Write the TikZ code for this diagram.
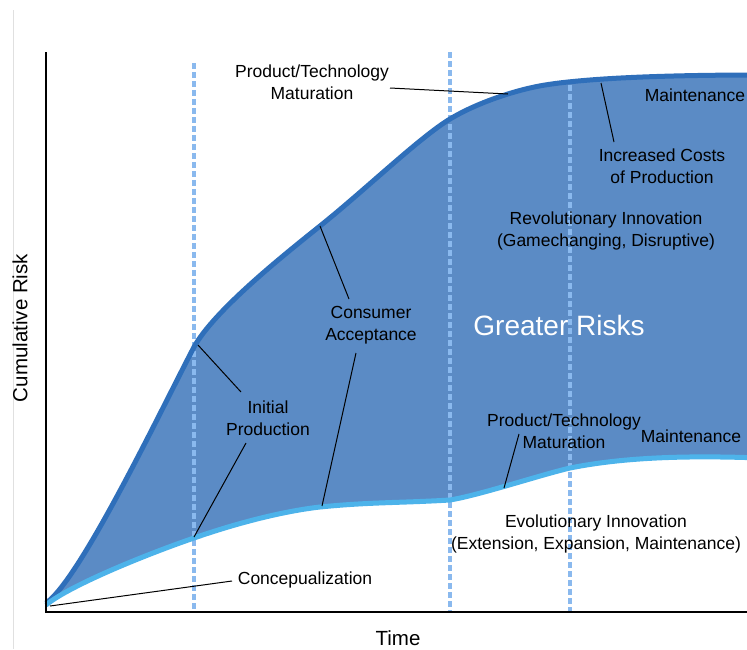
\documentclass[tikz,border=0pt]{standalone}
\usepackage{fontspec}
\setmainfont{Liberation Sans}
\usepackage{tikz}
\usetikzlibrary{positioning}
\definecolor{riskfill}{RGB}{91, 139, 197}
\definecolor{upper}{RGB}{47, 111, 186}
\definecolor{lower}{RGB}{77, 179, 234}
\definecolor{phase}{RGB}{138, 185, 238}
\definecolor{frame}{RGB}{224, 224, 224}

\tikzset{
  lbl/.style={align=center, inner sep=0pt, font=\fontsize{17.5}{22}\selectfont},
  axislbl/.style={inner sep=0pt, font=\fontsize{20.5}{24}\selectfont},
  phaseline/.style={phase, line width=3.5pt, dash pattern=on 6pt off 3pt},
  leader/.style={black, line width=1pt}
}

\begin{document}
\begin{tikzpicture}[x=1pt, y=-1pt, thick]
  \useasboundingbox (0, 0) rectangle (747, 649);
  \clip (0, 0) rectangle (747, 649);

  \draw[frame, line width=1pt] (13, 10) -- (13, 649);

  % area between the two curves
  \fill[riskfill] (46, 603) .. controls (80, 580) and (160, 412) .. (194, 347)
    .. controls (214, 311) and (280, 258) .. (320, 226)
    .. controls (365, 190) and (420, 137) .. (450, 119)
    .. controls (480, 101) and (520, 89) .. (545, 85)
    .. controls (600, 76.2) and (700, 75) .. (760, 75)
    -- (760, 458)
    .. controls (680, 455) and (620, 458) .. (570, 468)
    .. controls (540, 475) and (480, 495) .. (450, 500)
    .. controls (400, 503) and (370, 502) .. (320, 507)
    .. controls (285, 511) and (240, 522) .. (194, 538)
    .. controls (150, 553) and (70, 585) .. (46, 605)
    -- cycle;

  % phases
  \draw[phaseline] (194, 63) -- (194, 612);
  \draw[phaseline] (450, 52) -- (450, 612);
  \draw[phaseline] (570, 85) -- (570, 612);

  % curves
  \draw[upper, line width=5pt] (46, 603) .. controls (80, 580) and (160, 412) .. (194, 347)
    .. controls (214, 311) and (280, 258) .. (320, 226)
    .. controls (365, 190) and (420, 137) .. (450, 119)
    .. controls (480, 101) and (520, 89) .. (545, 85)
    .. controls (600, 76.2) and (700, 75) .. (760, 75);
  \draw[lower, line width=5pt] (46, 605) .. controls (70, 585) and (150, 553) .. (194, 538)
    .. controls (240, 522) and (285, 511) .. (320, 507)
    .. controls (370, 502) and (400, 503) .. (450, 500)
    .. controls (480, 495) and (540, 475) .. (570, 468)
    .. controls (620, 458) and (680, 455) .. (760, 458);

  % axes
  \draw[black, line width=1.5pt] (46, 52) -- (46, 612) -- (760, 612);

  \node[axislbl, rotate=90] (risk) at (20, 328) {Cumulative Risk};
  \node[axislbl] (time) at (398, 638) {Time};

  % labels
  \node[lbl] (ptmTop) at (312, 82) {Product/Technology\\Maturation};
  \node[lbl] (maintTop) at (695, 95) {Maintenance};
  \node[lbl] (costs) at (662, 166) {Increased Costs\\of Production};
  \node[lbl] (revol) at (606, 231) {Revolutionary Innovation\\(Gamechanging, Disruptive)};
  \node[lbl, text=white, font=\fontsize{28}{32}\selectfont] (greater) at (559, 325) {Greater Risks};
  \node[lbl] (consumer) at (371, 325) {Consumer\\Acceptance};
  \node[lbl] (initial) at (268, 418) {Initial\\Production};
  \node[lbl] (ptmLow) at (564, 431) {Product/Technology\\Maturation};
  \node[lbl] (maintLow) at (691, 436) {Maintenance};
  \node[lbl] (evol) at (596, 534) {Evolutionary Innovation\\(Extension, Expansion, Maintenance)};
  \node[lbl] (concept) at (305, 580) {Concepualization};

  % leader ends
  \coordinate (ptmTopA) at (390, 88);
  \coordinate (ptmTopB) at (508, 94);
  \coordinate (costsA) at (601, 83);
  \coordinate (costsB) at (614, 142);
  \coordinate (consA) at (320, 226);
  \coordinate (consB) at (349, 299);
  \coordinate (consC) at (356, 353);
  \coordinate (consD) at (322, 506);
  \coordinate (initA) at (198, 345);
  \coordinate (initB) at (241, 392);
  \coordinate (initC) at (246, 443);
  \coordinate (initD) at (194, 537);
  \coordinate (ptmLowA) at (519, 434);
  \coordinate (ptmLowB) at (504, 488);
  \coordinate (conceptA) at (232, 581);
  \coordinate (conceptB) at (50, 606);

  \draw[leader] (ptmTopA) -- (ptmTopB);
  \draw[leader] (costsA) -- (costsB);
  \draw[leader] (consA) -- (consB);
  \draw[leader] (consC) -- (consD);
  \draw[leader] (initA) -- (initB);
  \draw[leader] (initC) -- (initD);
  \draw[leader] (ptmLowA) -- (ptmLowB);
  \draw[leader] (conceptA) -- (conceptB);
\end{tikzpicture}
\end{document}
